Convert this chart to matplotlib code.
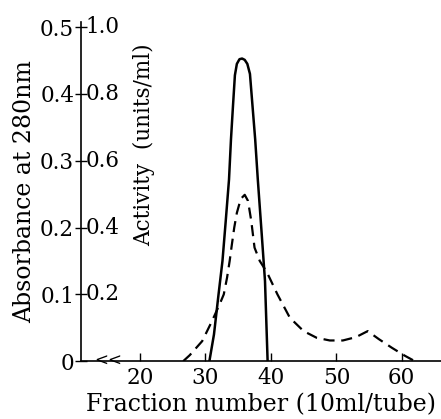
import matplotlib.pyplot as plt

# fraction number vs absorbance (dashed) and activity (solid, read on 0.5 scale)
frac_abs = [26.6, 27.6, 29.5, 31.0, 32.2, 32.8, 33.3, 33.7, 34.0, 34.4, 34.8, 35.4, 36.0, 36.5, 37.0, 37.5, 38.3, 39.4, 41.0, 42.9, 45.0, 47.0, 49.0, 51.0, 53.0, 54.8, 56.5, 58.5, 60.5, 62.0]
absorbance = [0.0, 0.009, 0.03, 0.06, 0.086, 0.1, 0.125, 0.15, 0.172, 0.2, 0.222, 0.243, 0.249, 0.24, 0.21, 0.17, 0.15, 0.133, 0.1, 0.065, 0.045, 0.035, 0.031, 0.031, 0.036, 0.045, 0.033, 0.02, 0.008, 0.0]

frac_act = [30.6, 31.3, 32.0, 32.6, 33.1, 33.6, 33.9, 34.2, 34.5, 34.8, 35.2, 35.6, 36.0, 36.4, 36.8, 37.2, 37.6, 38.0, 38.6, 39.1, 39.5]
activity = [0.0, 0.04, 0.1, 0.15, 0.21, 0.272, 0.332, 0.381, 0.428, 0.445, 0.452, 0.453, 0.451, 0.445, 0.43, 0.381, 0.332, 0.272, 0.19, 0.12, 0.0]

abs_ticks = [0, 0.1, 0.2, 0.3, 0.4, 0.5]
abs_labels = ['0', '0.1', '0.2', '0.3', '0.4', '0.5']
act_labels = ['', '0.2', '0.4', '0.6', '0.8', '1.0']
x_ticks = [20, 30, 40, 50, 60]

plt.rcParams['font.family'] = ['DejaVu Serif']

fig = plt.figure(figsize=(4.41, 4.19), dpi=100)
ax = fig.add_axes([0.184, 0.138, 0.816, 0.81])

ax.plot(frac_act, activity, color='black', lw=1.8, solid_capstyle='round', solid_joinstyle='round')
ax.plot(frac_abs, absorbance, color='black', lw=1.6, dashes=(5, 3))

ax.set_xlim(11, 66)
ax.set_ylim(0, 0.508)

for s in ['top', 'right']:
    ax.spines[s].set_visible(False)
ax.spines['left'].set_linewidth(1.2)
ax.spines['bottom'].set_linewidth(1.2)

ax.set_xticks(x_ticks)
ax.tick_params(axis='x', direction='in', length=6, width=1, labelsize=15.5, pad=4)
ax.set_yticks(abs_ticks)
ax.set_yticklabels(abs_labels)
ax.tick_params(axis='y', direction='inout', length=8, width=1, labelsize=15.5, pad=1)

# activity scale written just right of the spine
for y, lab in zip(abs_ticks, act_labels):
    ax.text(0.012, y, lab, transform=ax.get_yaxis_transform(), ha='left', va='center', fontsize=15.5)

# axis break mark
ax.text(15.2, 0, '<<', ha='center', va='center', fontsize=12)

ax.set_xlabel('Fraction number (10ml/tube)', fontsize=17, labelpad=3)
ax.set_ylabel('Absorbance at 280nm', fontsize=17, labelpad=3)
fig.text(0.326, 0.655, 'Activity  (units/ml)', rotation=90, ha='center', va='center', fontsize=15.5)

fig.savefig('out.png', dpi=100)
